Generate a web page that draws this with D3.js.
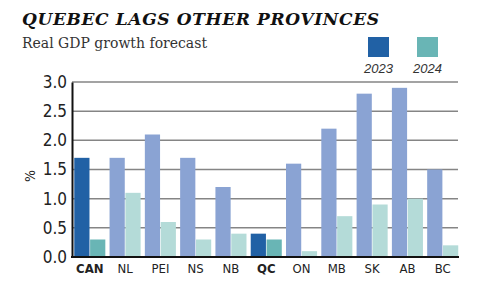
<!DOCTYPE html>
<html><head><meta charset="utf-8">
<script src="https://cdn.jsdelivr.net/npm/d3@7"></script>
<style>
body{margin:0;background:#fff;}
svg{display:block;}
</style></head>
<body>
<svg id="chart" width="500" height="300"></svg>
<script>
const categories = ["CAN","NL","PEI","NS","NB","QC","ON","MB","SK","AB","BC"];
const highlighted = ["CAN","QC"];
const series = ["2023","2024"];
const values2023 = [1.7,1.7,2.1,1.7,1.2,0.4,1.6,2.2,2.8,2.9,1.5];
const values2024 = [0.3,1.1,0.6,0.3,0.4,0.3,0.1,0.7,0.9,1.0,0.2];
const yTicks = [0,0.5,1,1.5,2,2.5,3];

const svg = d3.select("#chart");
const narrow = "'Liberation Sans Narrow','DejaVu Sans Condensed','Arial Narrow',sans-serif";
const colDark = {"2023":"#2161a5","2024":"#69b5b5"};
const colLight = {"2023":"#8aa3d3","2024":"#b4dbd8"};

const x = d3.scaleBand().domain(categories).range([72.5,460]).paddingInner(0.12).paddingOuter(0.05);
const xs = d3.scaleBand().domain(series).range([0,x.bandwidth()]).paddingInner(0.04);
const y = d3.scaleLinear().domain([0,3]).range([257,82]);

// gridlines
svg.append("g").selectAll("line").data(yTicks.filter(d=>d>0)).join("line")
  .attr("x1",72).attr("x2",458).attr("y1",d=>y(d)).attr("y2",d=>y(d))
  .attr("stroke","#858585").attr("stroke-width",1.5);

const rows = categories.map((c,i)=>({cat:c, vals:[{s:"2023",v:values2023[i]},{s:"2024",v:values2024[i]}]}));
const g = svg.append("g").selectAll("g").data(rows).join("g")
  .attr("transform",d=>`translate(${x(d.cat)},0)`);
g.selectAll("rect").data(d=>d.vals.map(o=>({...o,cat:d.cat}))).join("rect")
  .attr("x",d=>xs(d.s)).attr("width",xs.bandwidth())
  .attr("y",d=>y(d.v)).attr("height",d=>y(0)-y(d.v))
  .attr("fill",d=>highlighted.includes(d.cat)?colDark[d.s]:colLight[d.s]);

// axes
const yAxis = svg.append("g").attr("transform","translate(72,0)")
  .call(d3.axisLeft(y).tickValues(yTicks).tickFormat(d3.format(".1f")).tickSize(0).tickPadding(5));
yAxis.select(".domain").attr("stroke","#111").attr("stroke-width",2);
yAxis.selectAll("text").attr("font-family",narrow).attr("font-size",17).attr("fill","#222");

const xAxis = svg.append("g").attr("transform","translate(0,257)")
  .call(d3.axisBottom(x).tickSize(0).tickPadding(7));
xAxis.select(".domain").attr("stroke","#111").attr("stroke-width",2).attr("d","M71,0H459");
xAxis.selectAll("text").attr("font-family",narrow).attr("font-size",13).attr("fill","#222")
  .attr("font-weight",d=>highlighted.includes(d)?"bold":"normal");

svg.append("text").attr("transform","translate(35,176) rotate(-90)")
  .attr("text-anchor","middle").attr("font-family",narrow).attr("font-size",14).attr("fill","#222").text("%");

// title
svg.append("text").attr("x",22).attr("y",25)
  .attr("font-family","'DejaVu Serif',serif").attr("font-weight","bold").attr("font-style","italic")
  .attr("font-size",17).attr("textLength",357).attr("lengthAdjust","spacing").attr("fill","#111")
  .text("QUEBEC LAGS OTHER PROVINCES");
svg.append("text").attr("x",22).attr("y",48)
  .attr("font-family","'DejaVu Serif',serif").attr("font-size",14).attr("textLength",185).attr("lengthAdjust","spacingAndGlyphs").attr("fill","#333")
  .text("Real GDP growth forecast");

// legend
const lg = svg.append("g").selectAll("g").data(series).join("g")
  .attr("transform",(d,i)=>`translate(${368+i*49},37)`);
lg.append("rect").attr("width",21).attr("height",20).attr("fill",d=>colDark[d]);
lg.append("text").attr("x",10.5).attr("y",36).attr("text-anchor","middle")
  .attr("font-family","'Liberation Sans',sans-serif").attr("font-style","italic").attr("font-size",13).attr("fill","#333")
  .text(d=>d);
</script>
</body></html>
